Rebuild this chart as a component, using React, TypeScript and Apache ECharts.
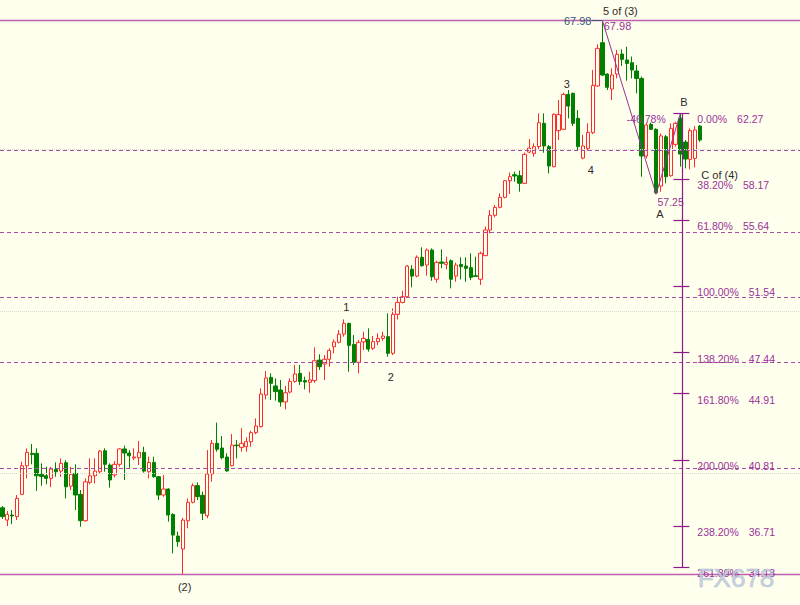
import React, { useEffect, useRef } from 'react';
import * as echarts from 'echarts';

// ---- Candle data (one slot per bar, left to right) ----
const opens = [
  37.84, 37.08, 37.39, 37.29, 38.67, 40.44, 41.21, 41.21, 39.91, 39.82,
  39.66, 40.22, 40.11, 40.63, 39.18, 39.97, 38.67, 37.04, 39.41, 39.82,
  40.07, 41.37, 40.48, 39.87, 40.53, 41.48, 41.23, 40.92, 40.94, 41.27,
  40.07, 40.65, 39.76, 38.63, 39.0, 37.43, 36.09, 35.29,
  37.04, 38.18, 39.21, 38.61, 37.35, 39.93, 41.83, 41.54, 40.98, 40.45,
  41.72, 41.58, 41.62, 41.93, 42.49, 42.86, 44.82, 45.91, 45.38, 45.13,
  44.39, 45.0, 45.66, 46.16, 45.71, 45.6, 45.71, 46.98, 46.74, 47.03,
  47.81, 48.08, 48.59, 49.25, 47.95, 46.84,
  48.1, 48.26, 47.71, 48.12, 48.32, 48.43, 47.4, 49.81, 50.55, 50.9,
  52.6, 52.18, 53.34, 52.86, 53.79, 51.98, 53.05, 52.9, 53.13, 52.18,
  52.9, 52.8, 52.7, 52.2, 51.98, 53.44, 55.03, 55.94, 56.43, 57.05,
  58.08, 58.45, 58.39, 57.92, 59.85,
  59.77, 60.19, 61.63, 60.19, 58.95, 61.18, 61.26, 63.42, 63.49, 61.94,
  59.48, 60.08, 61.05, 63.94, 66.62, 64.68, 63.75, 64.68, 65.92, 65.55,
  65.38, 64.87, 64.41, 59.61, 61.57, 61.26, 57.75, 60.8, 58.39, 60.33,
  61.94, 60.47, 59.4, 59.46, 61.46,
];
const closes = [
  37.29, 37.43, 37.33, 38.42, 40.44, 41.27, 41.14, 39.82, 39.78, 39.66,
  40.24, 40.07, 40.59, 39.14, 39.91, 38.63, 37.04, 39.45, 39.82, 40.11,
  41.35, 40.53, 39.56, 40.53, 41.48, 41.23, 41.06, 40.98, 41.27, 40.11,
  40.65, 39.76, 38.63, 39.0, 37.39, 36.15, 35.74, 37.08,
  38.18, 39.21, 38.53, 37.5, 39.93, 41.83, 41.46, 40.94, 40.12, 41.72,
  41.68, 41.83, 41.93, 42.49, 42.9, 44.88, 45.87, 45.54, 45.03, 44.39,
  44.96, 45.66, 46.12, 45.66, 45.62, 45.75, 46.94, 46.57, 47.03, 47.58,
  48.1, 48.59, 49.25, 47.89, 46.84, 48.08,
  48.32, 47.66, 48.12, 48.32, 48.47, 47.4, 49.81, 50.55, 50.9, 52.8,
  52.18, 53.34, 52.82, 53.79, 52.14, 53.03, 52.97, 53.03, 51.98, 52.86,
  52.76, 52.66, 52.1, 52.16, 53.59, 55.03, 55.94, 56.43, 57.05, 58.08,
  58.33, 58.37, 57.92, 59.71, 60.1,
  60.19, 61.67, 60.23, 58.99, 62.19, 62.17, 63.42, 62.7, 61.63, 60.19,
  60.23, 61.07, 63.98, 66.27, 64.62, 63.86, 64.62, 65.9, 65.59, 65.34,
  64.93, 64.41, 59.61, 61.53, 61.26, 57.34, 60.85, 58.33, 61.32, 61.63,
  59.73, 59.42, 61.18, 61.22, 60.6,
];
const lows = [
  37.15, 36.71, 36.83, 37.08, 38.63, 39.66, 40.53, 38.88, 39.21, 39.29,
  39.12, 39.76, 39.76, 38.42, 38.94, 37.7, 36.67, 36.98, 39.29, 39.35,
  39.97, 40.07, 39.08, 39.72, 40.38, 39.56, 40.32, 40.79, 40.48, 40.01,
  39.66, 39.7, 38.32, 38.52, 36.98, 35.02, 35.43, 33.74,
  36.57, 38.11, 38.32, 37.08, 37.19, 39.45, 41.31, 40.84, 40.07, 40.4,
  40.9, 41.31, 41.31, 41.62, 42.4, 42.82, 44.55, 44.51, 44.47, 44.1,
  43.93, 44.92, 45.58, 45.44, 45.17, 44.96, 45.58, 46.37, 45.75, 46.57,
  47.4, 48.02, 48.43, 46.26, 46.68, 46.16,
  47.6, 47.5, 47.6, 47.91, 48.18, 47.19, 47.29, 49.5, 50.49, 50.86,
  51.48, 52.1, 52.76, 52.2, 51.89, 51.77, 52.66, 52.6, 51.42, 51.83,
  51.98, 51.83, 51.93, 52.14, 51.63, 53.42, 54.82, 55.81, 56.37, 56.99,
  57.26, 58.02, 57.4, 57.88, 59.78,
  59.57, 59.98, 59.81, 58.53, 58.91, 60.6, 61.22, 61.94, 61.46, 59.98,
  59.4, 59.94, 60.97, 63.9, 64.55, 63.69, 63.07, 64.41, 65.18, 64.27,
  64.41, 63.49, 58.33, 59.46, 61.22, 57.25, 57.4, 57.92, 58.33, 60.19,
  58.95, 58.84, 58.78, 58.91, 60.49,
];
const highs = [
  37.95, 37.64, 37.7, 38.63, 40.69, 41.52, 41.79, 41.52, 40.59, 40.38,
  40.38, 40.65, 40.9, 40.79, 40.38, 40.53, 38.94, 39.66, 40.9, 40.9,
  41.41, 41.52, 40.59, 40.73, 41.52, 41.68, 41.41, 41.52, 41.97, 41.62,
  41.0, 41.0, 39.8, 39.87, 39.05, 37.5, 36.36, 37.22,
  38.42, 39.35, 39.41, 38.84, 41.41, 42.03, 43.11, 42.28, 41.21, 42.4,
  42.03, 42.76, 42.2, 42.61, 43.37, 45.23, 46.3, 46.16, 45.85, 45.75,
  45.38, 45.85, 46.68, 46.68, 45.95, 46.26, 47.77, 47.34, 47.29, 47.71,
  48.26, 48.84, 49.5, 49.3, 48.53, 48.22,
  48.74, 48.94, 48.47, 48.63, 48.74, 49.87, 50.18, 50.9, 51.27, 52.86,
  52.86, 53.46, 53.96, 53.89, 53.89, 53.13, 53.83, 53.38, 53.21, 53.01,
  53.34, 53.34, 53.59, 53.38, 53.69, 55.24, 56.27, 56.58, 57.3, 58.12,
  58.58, 58.64, 58.7, 59.82, 60.66,
  60.39, 62.25, 62.25, 60.29, 62.25, 63.07, 63.53, 63.69, 63.53, 62.45,
  60.91, 61.63, 64.93, 66.52, 67.98, 64.72, 65.03, 66.17, 66.21, 66.37,
  65.76, 65.24, 64.52, 61.67, 61.67, 61.32, 61.01, 60.91, 61.63, 61.73,
  62.27, 60.6, 61.32, 61.46, 61.53,
];

// Total slots on the time axis (bars + empty room on the right)
const SLOT_COUNT = 164;
const categories = Array.from({ length: SLOT_COUNT }, (_, i) => String(i + 1));

// ---- Elliott wave A-B path (bar index, price) ----
const waveIndex = [123, 134, 139];
const wavePrice = [67.98, 57.25, 62.27];

// ---- Fibonacci projection levels ----
const fibPctLabels = ['0.00%', '38.20%', '61.80%', '100.00%', '138.20%', '161.80%', '200.00%', '238.20%', '261.80%'];
const fibPrices = [62.27, 58.17, 55.64, 51.54, 47.44, 44.91, 40.81, 36.71, 34.18];

// ---- Horizontal lines ----
const dashedLevels = [59.96, 54.92, 50.88, 46.86, 40.3];
const solidLevels = [67.98, 33.74];
const gridLevels = [40, 50, 60];

// ---- Wave labels: text, anchor bar index, anchor price ----
const waveLabels = ['(2)', '1', '2', '3', '4', '5 of (3)', 'A', 'B', 'C of (4)'];
const waveLabelIndex = [37, 70, 79, 115, 119, 123, 134, 139.3, 142.45];
const waveLabelPrice = [33.74, 49.5, 47.19, 63.53, 59.4, 67.98, 57.25, 62.27, 58.17];

const PURPLE = '#993399';
const FONT = '"Liberation Sans", Arial, sans-serif';

export default function App() {
  const ref = useRef<HTMLDivElement>(null);

  useEffect(() => {
    const chart = echarts.init(ref.current!, null, { renderer: 'svg' });

    const candleData: any[] = opens.map((o, i) => [o, closes[i], lows[i], highs[i]]);
    while (candleData.length < SLOT_COUNT) candleData.push('-');

    const vLine = 139.3;
    const tickL = 137.55;
    const tickR = 140.82;
    const fibLabelX = 142.45;

    const levelMarks: any[] = [
      ...gridLevels.map((v) => ({ yAxis: v, lineStyle: { color: '#D9D9D2', type: 'dotted', width: 1 } })),
      ...dashedLevels.map((v) => ({ yAxis: v, lineStyle: { color: '#A64DA6', type: [4, 3], width: 1 } })),
      ...solidLevels.map((v) => ({ yAxis: v, lineStyle: { color: '#BF5FB0', type: 'solid', width: 1.3 } })),
    ];

    const fibMarks: any[] = [
      [
        { coord: [vLine, fibPrices[0]] },
        { coord: [vLine, fibPrices[fibPrices.length - 1]] },
      ],
      ...fibPrices.map((p) => [{ coord: [tickL, p] }, { coord: [tickR, p] }]),
      [
        { coord: [120.8, wavePrice[0]], lineStyle: { color: '#3A5A7A', width: 1 } },
        { coord: [waveIndex[0], wavePrice[0]] },
      ],
    ];

    const option: any = {
      animation: false,
      backgroundColor: '#FFFFEE',
      grid: { left: -2.45, top: 0, width: 803.6, height: 605 },
      xAxis: [
        { type: 'category', data: categories, show: false, boundaryGap: true },
        { type: 'value', min: -0.5, max: SLOT_COUNT - 0.5, show: false },
      ],
      yAxis: { type: 'value', min: 31.824, max: 69.263, show: false },
      series: [
        {
          name: 'levels',
          type: 'line',
          xAxisIndex: 1,
          data: [],
          z: 1,
          markLine: {
            silent: true,
            symbol: ['none', 'none'],
            label: { show: false },
            data: levelMarks,
          },
        },
        {
          name: 'price',
          type: 'candlestick',
          xAxisIndex: 0,
          data: candleData,
          barWidth: 3.8,
          z: 2,
          itemStyle: {
            color: '#FFFFEE',
            color0: '#008000',
            borderColor: '#FF2A2A',
            borderColor0: '#008000',
            borderWidth: 1,
          },
        },
        {
          name: 'wave',
          type: 'line',
          xAxisIndex: 1,
          data: waveIndex.map((x, i) => [x, wavePrice[i]]),
          symbol: 'none',
          z: 3,
          lineStyle: { color: PURPLE, width: 1 },
          markLine: {
            silent: true,
            symbol: ['none', 'none'],
            label: { show: false },
            lineStyle: { color: '#8B1A8B', width: 1.2, type: 'solid' },
            data: fibMarks,
          },
        },
      ],
    };

    chart.setOption(option);

    const px = (v: number, p: number) =>
      chart.convertToPixel({ seriesIndex: 2 }, [v, p]) as number[];

    const graphics: any[] = [];
    const addText = (
      text: string,
      at: number[],
      dx: number,
      dy: number,
      align: string,
      color: string,
      size = 11,
    ) => {
      graphics.push({
        type: 'text',
        x: at[0] + dx,
        y: at[1] + dy,
        silent: true,
        z: 10,
        style: {
          text,
          fill: color,
          font: `${size}px ${FONT}`,
          textAlign: align,
          textVerticalAlign: 'middle',
        },
      });
    };

    // wave labels
    const waveOffsets = [
      [1.7, 12.7, 'center'],
      [2.5, -12.4, 'center'],
      [2.9, 20, 'center'],
      [3.5, -8.6, 'center'],
      [7.9, 10.2, 'center'],
      [0.5, -9.7, 'left'],
      [3.9, 19.5, 'center'],
      [1.9, -11, 'center'],
      [4, -4.5, 'left'],
    ];
    waveLabels.forEach((t, i) => {
      const [dx, dy, al] = waveOffsets[i] as any;
      addText(t, px(waveLabelIndex[i], waveLabelPrice[i]), dx, dy, al, '#2B2B2B', 11);
    });

    // price annotations
    const peak = px(waveIndex[0], wavePrice[0]);
    const aPt = px(waveIndex[1], wavePrice[1]);
    addText(wavePrice[0].toFixed(2), peak, -11, 0.5, 'right', '#3A5A7A', 11);
    addText(wavePrice[0].toFixed(2), peak, 1.3, 5.5, 'left', PURPLE, 11);
    addText(wavePrice[1].toFixed(2), aPt, 1.4, 7.8, 'left', PURPLE, 10.5);
    const retr = ((wavePrice[2] - wavePrice[1]) / (wavePrice[0] - wavePrice[1])) * 100;
    addText(`-${retr.toFixed(2)}%`, px(127.96, wavePrice[2]), 0, 6, 'left', PURPLE, 10.5);

    // fib level labels
    fibPrices.forEach((p, i) => {
      const at = px(fibLabelX, p);
      graphics.push({
        type: 'text',
        x: at[0],
        y: at[1] + 6,
        silent: true,
        z: 10,
        style: {
          text: `{p|${fibPctLabels[i]}}{v|${p.toFixed(2)}}`,
          textAlign: 'left',
          textVerticalAlign: 'middle',
          rich: {
            p: { fill: PURPLE, font: `10.5px ${FONT}` },
            v: { fill: PURPLE, font: `10.5px ${FONT}`, padding: [0, 0, 0, 10] },
          },
        },
      });
    });

    // watermark
    graphics.push({
      type: 'text',
      x: 736,
      y: 578,
      silent: true,
      z: 20,
      style: {
        text: 'FX678',
        fill: 'rgba(190,202,222,0.85)',
        stroke: 'rgba(140,155,185,0.7)',
        lineWidth: 0.6,
        font: `26px ${FONT}`,
        textAlign: 'center',
        textVerticalAlign: 'middle',
      },
    });

    chart.setOption({ graphic: graphics });

    return () => chart.dispose();
  }, []);

  return (
    <div
      ref={ref}
      style={{ position: 'absolute', left: 0, top: 0, width: 800, height: 605 }}
    />
  );
}
